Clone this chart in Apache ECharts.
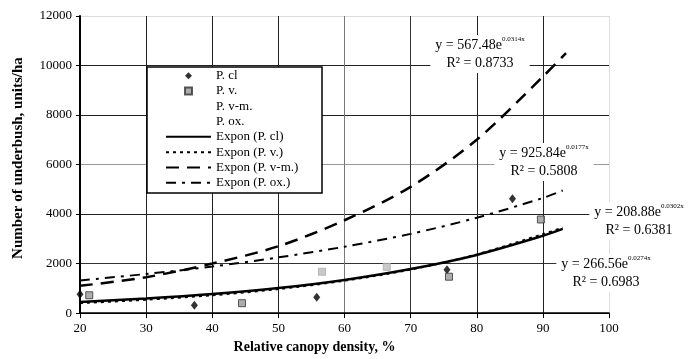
<!DOCTYPE html>
<html>
<head>
<meta charset="utf-8">
<script src="https://cdn.jsdelivr.net/npm/echarts@6/dist/echarts.min.js"></script>
<style>
  html, body { margin: 0; padding: 0; background: #fff; }
  #chart { width: 689px; height: 359px; }
</style>
</head>
<body>
<div id="chart"></div>
<script>
// observed points (relative canopy density %, units/ha)
var pCl = [[20, 760], [37.3, 320], [55.8, 640], [75.5, 1750], [85.4, 4620]];
var pV = [[21.4, 720], [44.5, 400], [75.8, 1470], [89.7, 3780]];
var pVm = [[56.6, 1670], [66.4, 1870]];
var pOx = [];

// exponential trend curves
var trendCl = [[20, 450], [30, 590], [40, 770], [50, 1010], [60, 1340], [70, 1780], [80, 2350], [90, 3120], [93, 3400]];
var trendV = [[20, 400], [30, 540], [40, 720], [50, 970], [60, 1310], [70, 1760], [80, 2370], [90, 3190], [93, 3450]];
var trendVm = [[20, 1100], [30, 1450], [40, 2000], [50, 2700], [60, 3750], [70, 5100], [80, 7000], [90, 9550], [93.5, 10500]];
var trendOx = [[20, 1320], [30, 1580], [40, 1880], [50, 2250], [60, 2680], [70, 3200], [80, 3850], [90, 4650], [93, 4950]];

// equation labels: coefficient, exponent, R²
var eqCoef = ['567.48', '925.84', '208.88', '266.56'];
var eqExp = ['0.0314x', '0.0177x', '0.0302x', '0.0274x'];
var eqR2 = ['0.8733', '0.5808', '0.6381', '0.6983'];

var pointNames = ['P. cl', 'P. v.', 'P. v-m.', 'P. ox.'];
var trendNames = ['Expon (P. cl)', 'Expon (P. v.)', 'Expon (P. v-m.)', 'Expon (P. ox.)'];

var serif = '"Liberation Serif", "DejaVu Serif", serif';
var eqPos = [[480, 54], [544, 162], [639, 221], [606, 273]];

var chart = echarts.init(document.getElementById('chart'));

var eqGraphics = eqCoef.map(function (c, i) {
  return {
    type: 'text',
    x: eqPos[i][0],
    y: eqPos[i][1],
    z: 1,
    style: {
      text: '{a|y = ' + c + 'e}{s|' + eqExp[i] + '}\n{a|R² = ' + eqR2[i] + '}',
      align: 'center',
      verticalAlign: 'middle',
      backgroundColor: '#fff',
      padding: [1, 5],
      rich: {
        a: { fontFamily: serif, fontSize: 14, lineHeight: 18, fill: '#000' },
        s: { fontFamily: serif, fontSize: 7, lineHeight: 18, verticalAlign: 'top', fill: '#000' }
      }
    }
  };
});

var noDot = { opacity: 0 };
var legendText = { fontFamily: serif, fontSize: 13, color: '#000', lineHeight: 15.3 };

chart.setOption({
  animation: false,
  grid: { left: 80, right: 80, top: 16, bottom: 42 },
  xAxis: {
    type: 'value',
    min: 20,
    max: 100,
    interval: 10,
    name: 'Relative canopy density, %',
    nameLocation: 'middle',
    nameGap: 21,
    nameTextStyle: { fontFamily: serif, fontSize: 14, fontWeight: 'bold', color: '#000', padding: [0, 60, 0, 0] },
    axisLine: { show: true, lineStyle: { color: '#000', width: 1.5 } },
    axisTick: { show: true, length: 5, lineStyle: { color: '#000' } },
    axisLabel: { fontFamily: serif, fontSize: 13, color: '#000', margin: 9 },
    splitLine: {
      show: true,
      lineStyle: { width: 1, color: ['#000', '#222', '#222', '#222', '#777', '#333', '#222', '#222', '#ddd'] }
    }
  },
  yAxis: {
    type: 'value',
    min: 0,
    max: 12000,
    interval: 2000,
    name: 'Number of underbush, units/ha',
    nameLocation: 'middle',
    nameGap: 54,
    nameTextStyle: { fontFamily: serif, fontSize: 15, fontWeight: 'bold', color: '#000', padding: [0, 0, 0, 13] },
    axisLine: { show: true, lineStyle: { color: '#000', width: 2 } },
    axisTick: { show: true, length: 4, lineStyle: { color: '#000' } },
    axisLabel: {
      fontFamily: serif, fontSize: 13, color: '#000', margin: 8,
      formatter: function (v) { return String(v); }
    },
    splitLine: {
      show: true,
      lineStyle: { width: 1, color: ['#000', '#333', '#222', '#999', '#222', '#222', '#ddd'] }
    }
  },
  legend: [
    {
      orient: 'vertical',
      left: 184,
      top: 68,
      padding: 0,
      itemWidth: 7,
      itemHeight: 7,
      itemGap: 0,
      selectedMode: false,
      textStyle: Object.assign({ padding: [0, 0, 0, 19] }, legendText),
      data: [
        { name: pointNames[0] },
        { name: pointNames[1] },
        { name: pointNames[2], itemStyle: noDot },
        { name: pointNames[3], itemStyle: noDot }
      ]
    },
    {
      orient: 'vertical',
      left: 165,
      top: 68 + 4 * 15.3,
      padding: 0,
      itemWidth: 45,
      itemHeight: 7,
      itemGap: 0,
      selectedMode: false,
      textStyle: legendText,
      data: trendNames.map(function (n) { return { name: n, itemStyle: noDot }; })
    }
  ],
  graphic: [
    {
      type: 'rect',
      z: 3,
      shape: { x: 147, y: 67, width: 175, height: 126 },
      style: { fill: '#fff', stroke: '#000', lineWidth: 1.5 }
    }
  ].concat(eqGraphics),
  series: [
    {
      name: pointNames[0], type: 'scatter', data: pCl,
      symbol: 'diamond', symbolSize: [7, 9],
      itemStyle: { color: '#000' }, z: 4
    },
    {
      name: pointNames[1], type: 'scatter', data: pV,
      symbol: 'rect', symbolSize: 7,
      itemStyle: { color: '#999', borderColor: '#333', borderWidth: 1 }, z: 4
    },
    {
      name: pointNames[2], type: 'scatter', data: pVm,
      symbol: 'rect', symbolSize: 7,
      itemStyle: { color: '#bbb', borderColor: '#aaa', borderWidth: 1 }, z: 4
    },
    {
      name: pointNames[3], type: 'scatter', data: pOx,
      symbol: 'rect', symbolSize: 7,
      itemStyle: { color: '#ccc' }, z: 4
    },
    {
      name: trendNames[0], type: 'line', data: trendCl, smooth: 0.3, symbol: 'none',
      lineStyle: { color: '#000', width: 2.5, type: 'solid' }, itemStyle: { color: '#000' }
    },
    {
      name: trendNames[1], type: 'line', data: trendV, smooth: 0.3, symbol: 'none',
      lineStyle: { color: '#000', width: 2, type: [3, 4] }, itemStyle: { color: '#000' }
    },
    {
      name: trendNames[2], type: 'line', data: trendVm, smooth: 0.3, symbol: 'none',
      lineStyle: { color: '#000', width: 2.5, type: [13, 8] }, itemStyle: { color: '#000' }
    },
    {
      name: trendNames[3], type: 'line', data: trendOx, smooth: 0.3, symbol: 'none',
      lineStyle: { color: '#000', width: 2, type: [10, 6, 3, 6] }, itemStyle: { color: '#000' }
    }
  ]
});
</script>
</body>
</html>
